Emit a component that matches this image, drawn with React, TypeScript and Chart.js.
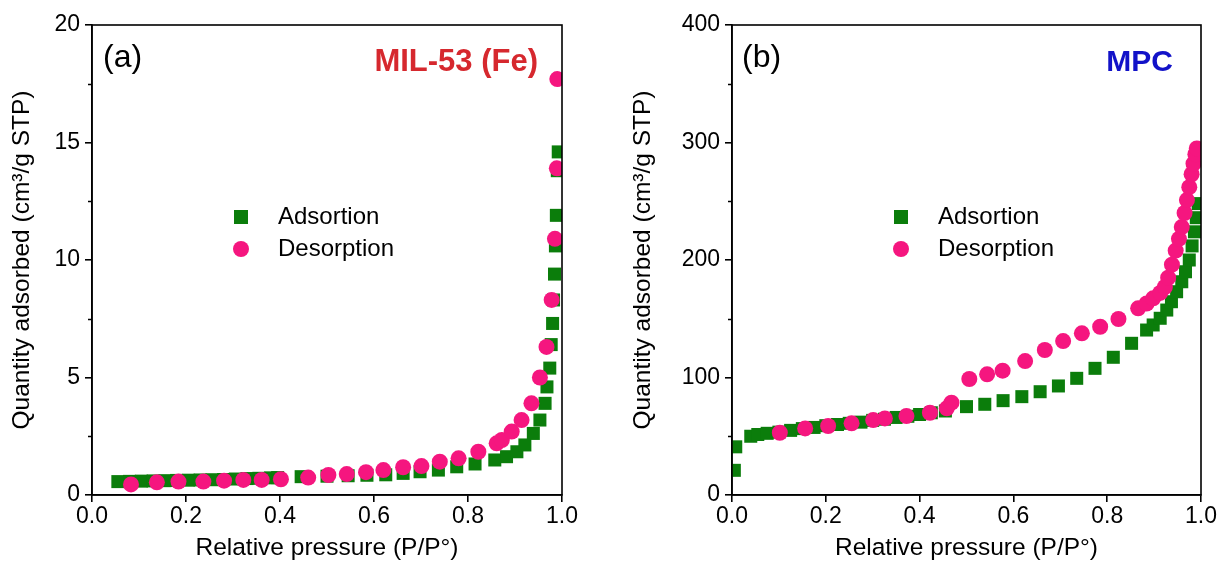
import React, { useEffect, useRef } from "react";
import { Chart, registerables } from "chart.js";
Chart.register(...registerables);

// ---------- Data (a) MIL-53 (Fe) ----------
const MIL_ADS_P = [0.055, 0.08, 0.105, 0.13, 0.155, 0.18, 0.205, 0.23, 0.255, 0.28, 0.305, 0.33, 0.355, 0.38, 0.395,
  0.445, 0.50, 0.545, 0.585, 0.625, 0.662, 0.698, 0.737, 0.776, 0.815, 0.857, 0.882, 0.904, 0.921, 0.939, 0.953, 0.964,
  0.968, 0.974, 0.977, 0.980, 0.982, 0.984, 0.986, 0.988, 0.990, 0.992];
const MIL_ADS_Q = [0.57, 0.58, 0.59, 0.60, 0.61, 0.62, 0.63, 0.64, 0.65, 0.66, 0.68, 0.70, 0.71, 0.73, 0.74,
  0.78, 0.80, 0.82, 0.84, 0.86, 0.92, 0.99, 1.06, 1.20, 1.32, 1.49, 1.63, 1.84, 2.13, 2.62, 3.19, 3.90,
  4.60, 5.40, 6.40, 7.30, 8.30, 9.40, 10.6, 11.9, 13.8, 14.6];
const MIL_DES_P = [0.083, 0.138, 0.184, 0.237, 0.281, 0.322, 0.361, 0.402, 0.46, 0.503, 0.542, 0.583, 0.62, 0.662,
  0.701, 0.74, 0.78, 0.822, 0.861, 0.872, 0.893, 0.914, 0.935, 0.953, 0.967, 0.978, 0.985, 0.989, 0.990];
const MIL_DES_Q = [0.45, 0.54, 0.57, 0.57, 0.61, 0.64, 0.64, 0.67, 0.74, 0.85, 0.89, 0.97, 1.06, 1.18,
  1.23, 1.42, 1.56, 1.84, 2.20, 2.34, 2.70, 3.19, 3.90, 5.00, 6.30, 8.30, 10.9, 13.9, 17.7];
const MIL_Y_MAJOR = [0, 5, 10, 15, 20];
const MIL_Y_MINOR = [2.5, 7.5, 12.5, 17.5];

// ---------- Data (b) MPC ----------
const MPC_ADS_P = [0.005, 0.008, 0.04, 0.055, 0.075, 0.10, 0.125, 0.15, 0.175, 0.20, 0.225, 0.25, 0.275, 0.30, 0.325,
  0.35, 0.375, 0.40, 0.425, 0.455, 0.500, 0.539, 0.578, 0.618, 0.657, 0.696, 0.735, 0.774, 0.813, 0.852, 0.884,
  0.898, 0.913, 0.927, 0.937, 0.948, 0.959, 0.967, 0.975, 0.981, 0.986, 0.990, 0.994];
const MPC_ADS_Q = [21, 41, 50, 51.5, 52.5, 53.5, 55, 56.5, 57.5, 59, 60, 61, 62, 63.5, 64.5,
  66, 67, 68.5, 70, 71.5, 75.2, 77.2, 80.3, 83.7, 87.9, 92.8, 99.3, 107.8, 117.2, 129.1, 140.4,
  144.7, 150.4, 157.4, 164.5, 173, 181.5, 190, 200, 212, 224, 236, 248];
const MPC_DES_P = [0.102, 0.156, 0.205, 0.255, 0.301, 0.326, 0.372, 0.422, 0.458, 0.468, 0.506, 0.544, 0.577, 0.625,
  0.667, 0.706, 0.746, 0.785, 0.824, 0.866, 0.884, 0.898, 0.913, 0.923, 0.930, 0.938, 0.946, 0.953, 0.959, 0.965,
  0.970, 0.975, 0.980, 0.984, 0.988, 0.991];
const MPC_DES_Q = [53, 56.7, 58.7, 61, 63.8, 65.2, 67.2, 70, 73.8, 78.6, 98.7, 102.7, 105.8, 114,
  123.4, 131, 137.6, 143.2, 149.8, 158.9, 163, 167.4, 172, 177, 185, 196, 208, 218, 228, 240,
  251, 262, 273, 282, 290, 295];
const MPC_Y_MAJOR = [0, 100, 200, 300, 400];
const MPC_Y_MINOR = [50, 150, 250, 350];

const X_MAJOR = [0, 0.2, 0.4, 0.6, 0.8, 1.0];
const SERIES_NAMES = ["Adsortion", "Desorption"];
const X_TITLE = "Relative pressure (P/P°)";
const Y_TITLE = "Quantity adsorbed (cm³/g STP)";

const GREEN = "#0b7d0b";
const PINK = "#f5167f";
const FONT = "'Liberation Sans', Arial, sans-serif";

const framePlugin = {
  id: "frameMinor",
  afterDraw(chart: any, _args: any, opts: any) {
    const { ctx, chartArea: a } = chart;
    const y = chart.scales.y;
    ctx.save();
    ctx.strokeStyle = "#000";
    ctx.lineWidth = 1.6;
    ctx.strokeRect(a.left, a.top, a.right - a.left, a.bottom - a.top);
    ctx.beginPath();
    for (const v of opts.minor || []) {
      const py = Math.round(y.getPixelForValue(v)) + 0.5;
      ctx.moveTo(a.left, py);
      ctx.lineTo(a.left - 4, py);
    }
    ctx.stroke();
    ctx.restore();
  },
};

type PanelProps = {
  left: number; width: number; yWidth: number; padRight: number; titlePad: number;
  adsP: number[]; adsQ: number[]; desP: number[]; desQ: number[];
  yMajor: number[]; yMinor: number[];
};

function Panel(p: PanelProps) {
  const ref = useRef<HTMLCanvasElement>(null);
  useEffect(() => {
    if (!ref.current) return;
    const ymax = p.yMajor[p.yMajor.length - 1];
    const chart = new Chart(ref.current, {
      type: "scatter",
      data: {
        datasets: [
          {
            label: SERIES_NAMES[0],
            data: p.adsP.map((x, i) => ({ x, y: p.adsQ[i] })),
            pointStyle: "rect",
            pointRadius: 9.2,
            pointHoverRadius: 9.2,
            backgroundColor: GREEN,
            borderWidth: 0,
            order: 2,
            clip: 0,
          },
          {
            label: SERIES_NAMES[1],
            data: p.desP.map((x, i) => ({ x, y: p.desQ[i] })),
            pointStyle: "circle",
            pointRadius: 8,
            pointHoverRadius: 8,
            backgroundColor: PINK,
            borderWidth: 0,
            order: 1,
            clip: 0,
          },
        ],
      },
      options: {
        animation: false,
        responsive: true,
        maintainAspectRatio: false,
        layout: { padding: { left: 0, right: p.padRight, top: 25, bottom: 0 } },
        plugins: {
          legend: { display: false },
          tooltip: { enabled: false },
          frameMinor: { minor: p.yMinor },
        } as any,
        scales: {
          x: {
            type: "linear",
            min: 0,
            max: 1,
            afterBuildTicks: (s: any) => { s.ticks = X_MAJOR.map((v) => ({ value: v })); },
            afterFit: (s: any) => { s.height = 83; },
            ticks: {
              autoSkip: false,
              maxRotation: 0,
              padding: 1,
              color: "#000",
              font: { family: FONT, size: 23 },
              callback: (v: any) => Number(v).toFixed(1),
            },
            grid: { drawOnChartArea: false, drawTicks: true, tickLength: 7, color: "#000", lineWidth: 1.6 },
            border: { display: true, color: "#000", width: 1.6 },
            title: {
              display: true,
              text: X_TITLE,
              color: "#000",
              font: { family: FONT, size: 24.5 },
              padding: { top: 0, bottom: 15 },
            },
          },
          y: {
            type: "linear",
            min: 0,
            max: ymax,
            afterBuildTicks: (s: any) => { s.ticks = p.yMajor.map((v) => ({ value: v })); },
            afterFit: (s: any) => { s.width = p.yWidth; },
            ticks: {
              autoSkip: false,
              padding: 5,
              color: "#000",
              font: { family: FONT, size: 23 },
              callback: (v: any) => String(v),
            },
            grid: { drawOnChartArea: false, drawTicks: true, tickLength: 7, color: "#000", lineWidth: 1.6 },
            border: { display: true, color: "#000", width: 1.6 },
            title: {
              display: true,
              text: Y_TITLE,
              color: "#000",
              font: { family: FONT, size: 24.5 },
              padding: { top: p.titlePad, bottom: 0 },
            },
          },
        },
      },
      plugins: [framePlugin],
    });
    return () => chart.destroy();
  }, []);
  return (
    <div style={{ position: "absolute", left: p.left, top: 0, width: p.width, height: 578 }}>
      <canvas ref={ref} />
    </div>
  );
}

function Legend({ left }: { left: number }) {
  const text: React.CSSProperties = {
    position: "absolute", left: left + 37, fontFamily: FONT, fontSize: 24, lineHeight: 1, color: "#000", whiteSpace: "nowrap",
  };
  return (
    <>
      <div style={{ position: "absolute", left: left - 7, top: 210, width: 14, height: 14, background: GREEN }} />
      <div style={{ ...text, top: 204 }}>{SERIES_NAMES[0]}</div>
      <div style={{ position: "absolute", left: left - 8, top: 241, width: 16, height: 16, borderRadius: 8, background: PINK }} />
      <div style={{ ...text, top: 236 }}>{SERIES_NAMES[1]}</div>
    </>
  );
}

export default function App() {
  const label: React.CSSProperties = { position: "absolute", fontFamily: FONT, lineHeight: 1, whiteSpace: "nowrap" };
  return (
    <div style={{ position: "absolute", left: 0, top: 0, width: 1225, height: 578, background: "#fff", overflow: "hidden" }}>
      <Panel left={0} width={612} yWidth={92} padRight={50} titlePad={8}
        adsP={MIL_ADS_P} adsQ={MIL_ADS_Q} desP={MIL_DES_P} desQ={MIL_DES_Q}
        yMajor={MIL_Y_MAJOR} yMinor={MIL_Y_MINOR} />
      <Panel left={620} width={605} yWidth={112} padRight={24} titlePad={9}
        adsP={MPC_ADS_P} adsQ={MPC_ADS_Q} desP={MPC_DES_P} desQ={MPC_DES_Q}
        yMajor={MPC_Y_MAJOR} yMinor={MPC_Y_MINOR} />
      <div style={{ ...label, left: 103, top: 40, fontSize: 32, color: "#000" }}>(a)</div>
      <div style={{ ...label, left: 742, top: 40, fontSize: 32, color: "#000" }}>(b)</div>
      <div style={{ ...label, right: 687, top: 45, fontSize: 31, fontWeight: "bold", color: "#d6282e" }}>MIL-53 (Fe)</div>
      <div style={{ ...label, right: 52, top: 46, fontSize: 30, fontWeight: "bold", color: "#1212c8" }}>MPC</div>
      <Legend left={241} />
      <Legend left={901} />
    </div>
  );
}
